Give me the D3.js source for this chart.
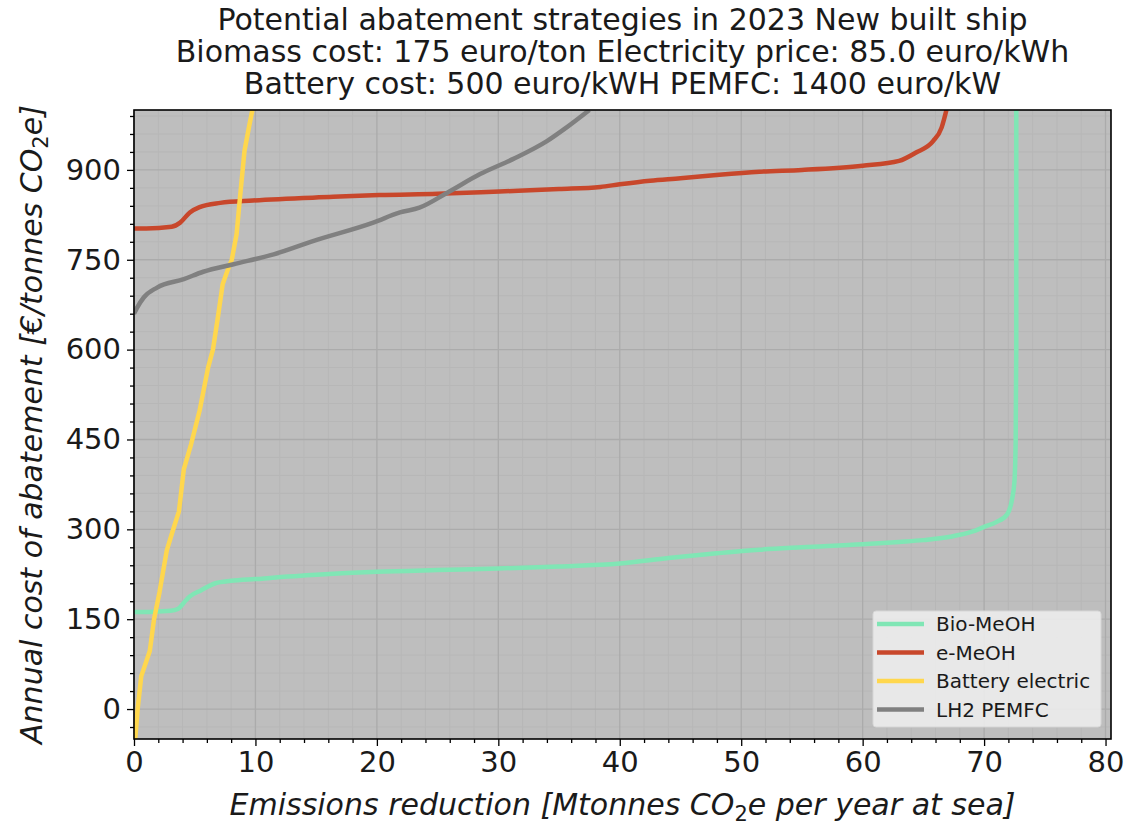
<!DOCTYPE html>
<html>
<head>
<meta charset="utf-8">
<script src="https://cdn.jsdelivr.net/npm/d3@7"></script>
<style>
  html, body { margin: 0; padding: 0; background: #ffffff; }
  svg { display: block; font-family: "DejaVu Sans", sans-serif; }
</style>
</head>
<body>
<svg id="chart" width="1127" height="825"></svg>
<script>
// Marginal abatement cost curves: cumulative emissions reduction (Mt CO2e/yr) vs cost (€/t CO2e)
const bioMeOH = [
  [0, 162], [1, 162], [2, 163], [3, 164], [3.6, 167], [4.3, 182], [4.6, 188], [5.5, 198],
  [6.7, 210], [8, 214], [10, 217], [15, 224], [20, 229], [25, 232], [30, 234.6], [35, 238],
  [40, 243], [44, 252], [48, 260], [51.5, 266], [55, 270], [60, 275], [63, 279], [65, 282],
  [67.2, 287.5], [69, 296], [70, 304], [71, 312], [71.9, 325], [72.3, 350], [72.5, 380],
  [72.6, 448], [72.65, 600], [72.65, 1000]
];
const eMeOH = [
  [0, 802], [1, 802], [3.1, 805], [3.8, 812], [4.6, 829], [5.4, 838], [7.1, 845], [9.8, 849],
  [16.4, 855], [20.2, 858], [25, 860], [30.1, 864], [35, 868], [38.4, 871.6], [40, 876],
  [42.5, 882], [45, 886], [48.2, 892], [51.5, 897], [55, 900], [60, 907], [63, 915],
  [64.4, 929], [65.8, 948], [66.5, 970.6], [66.9, 1000]
];
const batteryElectric = [
  [0.1, -50], [0.3, 0], [0.6, 55], [1.3, 97], [1.65, 150], [2.1, 195], [2.7, 265], [3.2, 298],
  [3.7, 330], [4.1, 400], [4.7, 442], [5.4, 498], [6.1, 570], [6.5, 600], [6.9, 653],
  [7.3, 709], [7.7, 732], [8.05, 750], [8.45, 793], [8.7, 848], [9.1, 932], [9.5, 975], [9.75, 1000]
];
const lh2PEMFC = [
  [0, 660], [0.2, 668], [0.8, 687], [1.9, 703.6], [4.1, 717.6], [5.7, 730], [8.2, 742.6],
  [11.5, 759], [14.8, 781.5], [19.7, 812], [21.9, 829], [23.5, 837], [25.8, 862], [28.5, 893],
  [31.2, 918], [34, 948], [35.6, 970.6], [37.5, 1000]
];

const seriesNames = ["Bio-MeOH", "e-MeOH", "Battery electric", "LH2 PEMFC"];
const seriesColors = ["#80e6b5", "#c8472b", "#ffd74d", "#808080"];
const seriesData = [bioMeOH, eMeOH, batteryElectric, lh2PEMFC];

const xTicks = [0, 10, 20, 30, 40, 50, 60, 70, 80];
const yTicks = [0, 150, 300, 450, 600, 750, 900];

const titleLines = [
  "Potential abatement strategies in 2023 New built ship",
  "Biomass cost: 175 euro/ton Electricity price: 85.0 euro/kWh",
  "Battery cost: 500 euro/kWH PEMFC: 1400 euro/kW"
];

const svg = d3.select("#chart");
const margin = { left: 134, right: 1111, top: 110, bottom: 739 };

const x = d3.scaleLinear().domain([0, 80.45]).range([margin.left, margin.right]);
const y = d3.scaleLinear().domain([-50, 1000]).range([margin.bottom, margin.top]);

// Axes background
svg.append("rect")
  .attr("x", margin.left).attr("y", margin.top)
  .attr("width", margin.right - margin.left).attr("height", margin.bottom - margin.top)
  .attr("fill", "#bebebe");

const xMinor = d3.range(0, 81, 2).filter(v => v % 10 !== 0);
const yMinor = d3.range(-30, 1000, 30).filter(v => v % 150 !== 0);

// Grid: minor then major
const grid = svg.append("g");
grid.selectAll(".xmin").data(xMinor).join("line")
  .attr("x1", d => x(d)).attr("x2", d => x(d))
  .attr("y1", margin.top).attr("y2", margin.bottom)
  .attr("stroke", "#b7b7b7").attr("stroke-width", 1);
grid.selectAll(".ymin").data(yMinor).join("line")
  .attr("y1", d => y(d)).attr("y2", d => y(d))
  .attr("x1", margin.left).attr("x2", margin.right)
  .attr("stroke", "#b7b7b7").attr("stroke-width", 1);
grid.selectAll(".xmaj").data(xTicks).join("line")
  .attr("x1", d => x(d)).attr("x2", d => x(d))
  .attr("y1", margin.top).attr("y2", margin.bottom)
  .attr("stroke", "#ababab").attr("stroke-width", 1.3);
grid.selectAll(".ymaj").data(yTicks).join("line")
  .attr("y1", d => y(d)).attr("y2", d => y(d))
  .attr("x1", margin.left).attr("x2", margin.right)
  .attr("stroke", "#ababab").attr("stroke-width", 1.3);

// Curves
svg.append("clipPath").attr("id", "plotClip")
  .append("rect")
  .attr("x", margin.left).attr("y", margin.top)
  .attr("width", margin.right - margin.left).attr("height", margin.bottom - margin.top);

const line = d3.line().x(d => x(d[0])).y(d => y(d[1])).curve(d3.curveMonotoneX);
const lineRaw = d3.line().x(d => x(d[0])).y(d => y(d[1])).curve(d3.curveLinear);

const curves = svg.append("g").attr("clip-path", "url(#plotClip)");
seriesData.forEach((data, i) => {
  curves.append("path")
    .datum(data)
    .attr("d", i === 2 ? lineRaw : line)
    .attr("fill", "none")
    .attr("stroke", seriesColors[i])
    .attr("stroke-width", 4.5)
    .attr("stroke-linejoin", "round")
    .attr("stroke-linecap", "butt");
});

// Axes with major and minor ticks
const xAxis = svg.append("g").attr("transform", `translate(0,${margin.bottom})`)
  .call(d3.axisBottom(x).tickValues(xTicks).tickSize(7).tickPadding(5).tickFormat(d3.format("d")));
const xAxisMinor = svg.append("g").attr("transform", `translate(0,${margin.bottom})`)
  .call(d3.axisBottom(x).tickValues(xMinor).tickSize(4).tickFormat(""));
const yAxis = svg.append("g").attr("transform", `translate(${margin.left},0)`)
  .call(d3.axisLeft(y).tickValues(yTicks).tickSize(7).tickPadding(6).tickFormat(d3.format("d")));
const yAxisMinor = svg.append("g").attr("transform", `translate(${margin.left},0)`)
  .call(d3.axisLeft(y).tickValues(yMinor).tickSize(4).tickFormat(""));

[xAxis, xAxisMinor, yAxis, yAxisMinor].forEach(g => {
  g.select(".domain").remove();
  g.selectAll(".tick line").attr("stroke", "#000").attr("stroke-width", 1.3);
  g.selectAll("text").attr("fill", "#1a1a1a").style("font-size", "29px")
    .style("font-family", "'DejaVu Sans', sans-serif");
});

// Frame
svg.append("rect")
  .attr("x", margin.left).attr("y", margin.top)
  .attr("width", margin.right - margin.left).attr("height", margin.bottom - margin.top)
  .attr("fill", "none").attr("stroke", "#000").attr("stroke-width", 1.6);

// Title
const cx = (margin.left + margin.right) / 2;
svg.append("g").selectAll("text").data(titleLines).join("text")
  .attr("x", cx).attr("y", (d, i) => 30 + i * 32)
  .attr("text-anchor", "middle")
  .style("font-size", "30px").attr("fill", "#1a1a1a")
  .text(d => d);

// X label
const xl = svg.append("text")
  .attr("x", cx).attr("y", 815)
  .attr("text-anchor", "middle")
  .style("font-size", "30px").style("font-style", "italic").attr("fill", "#1a1a1a");
xl.append("tspan").text("Emissions reduction [Mtonnes CO");
xl.append("tspan").attr("dy", 6).style("font-size", "21px").style("font-style", "normal").text("2");
xl.append("tspan").attr("dy", -6).text("e per year at sea]");

// Y label
const yl = svg.append("text")
  .attr("transform", `translate(42,${(margin.top + margin.bottom) / 2}) rotate(-90)`)
  .attr("text-anchor", "middle")
  .style("font-size", "30px").style("font-style", "italic").attr("fill", "#1a1a1a");
yl.append("tspan").text("Annual cost of abatement [€/tonnes CO");
yl.append("tspan").attr("dy", 6).style("font-size", "21px").style("font-style", "normal").text("2");
yl.append("tspan").attr("dy", -6).text("e]");

// Legend
const legend = svg.append("g").attr("transform", "translate(873,611)");
legend.append("rect")
  .attr("x", 0).attr("y", 0).attr("width", 228).attr("height", 116)
  .attr("rx", 3)
  .attr("fill", "#f0f0f0").attr("fill-opacity", 0.85)
  .attr("stroke", "#d6d6d6").attr("stroke-width", 1);
const rows = legend.selectAll("g.row").data(seriesNames).join("g")
  .attr("transform", (d, i) => `translate(0,${13 + i * 28.5})`);
rows.append("line")
  .attr("x1", 4).attr("x2", 51).attr("y1", 0).attr("y2", 0)
  .attr("stroke", (d, i) => seriesColors[i]).attr("stroke-width", 4.5);
rows.append("text")
  .attr("x", 63).attr("y", 7)
  .style("font-size", "20px").attr("fill", "#1a1a1a")
  .text(d => d);
</script>
</body>
</html>
